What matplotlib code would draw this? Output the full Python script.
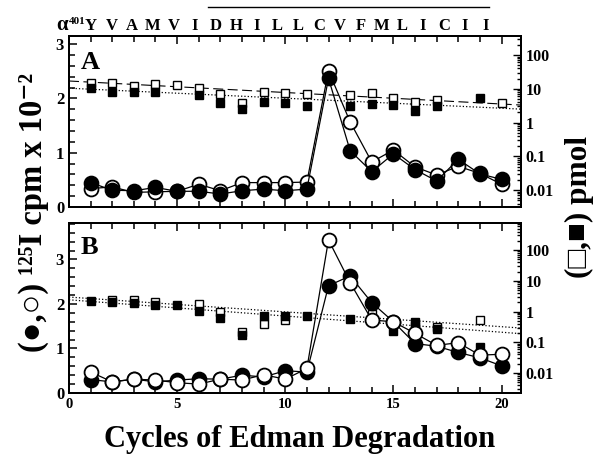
import numpy as np
import matplotlib
matplotlib.use("Agg")
import matplotlib.pyplot as plt
from matplotlib.ticker import MultipleLocator, LogLocator, NullFormatter, FuncFormatter

nan = np.nan

# Номера циклов деградации по Эдману
cycles = np.arange(1, 21)
residues = ["Y", "V", "A", "M", "V", "I", "D", "H", "I", "L",
            "L", "C", "V", "F", "M", "L", "I", "C", "I", "I"]

# Панель A: радиоактивность (cpm x 10^-2)
a_cpm_filled = [0.45, 0.31, 0.30, 0.36, 0.29, 0.29, 0.24, 0.30, 0.33, 0.30,
                0.33, 2.37, 1.04, 0.65, 0.98, 0.69, 0.48, 0.88, 0.61, 0.51]
a_cpm_open = [0.34, 0.37, 0.27, 0.28, 0.29, 0.42, 0.30, 0.45, 0.45, 0.45,
              0.46, 2.51, 1.57, 0.83, 1.05, 0.74, 0.59, 0.75, 0.62, 0.42]
# Панель A: выход аминокислот (pmol)
a_pmol_open = [14.7, 14.7, 11.7, 13.4, 12.8, 10.4, 6.8, 3.7, 8.3, 7.4,
               6.8, nan, 6.5, 7.3, 5.5, 4.1, 4.7, nan, nan, 3.9]
a_pmol_filled = [10.2, 7.8, 7.8, 7.8, nan, 6.6, 3.9, 2.5, 4.1, 3.7,
                 3.1, nan, 3.0, 3.6, 3.3, 2.2, 3.0, nan, 5.3, nan]

# Панель B
b_cpm_filled = [0.30, 0.25, 0.31, 0.25, 0.29, 0.32, 0.31, 0.40, 0.36, 0.50,
                0.47, 2.41, 2.63, 2.03, 1.60, 1.11, 1.05, 0.91, 0.79, 0.61]
b_cpm_open = [0.47, 0.25, 0.31, 0.29, 0.23, 0.20, 0.31, 0.29, 0.41, 0.31,
              0.55, 3.44, 2.48, 1.64, 1.60, 1.34, 1.07, 1.13, 0.85, 0.87]
b_pmol_filled = [2.2, 2.0, 1.9, 1.6, 1.6, 1.05, 0.61, 0.17, 0.72, 0.69,
                 0.69, nan, 0.58, nan, 0.24, 0.44, 0.27, nan, 0.069, nan]
b_pmol_open = [nan, 2.4, 2.4, 2.1, nan, 1.8, 1.0, 0.22, 0.39, 0.51,
               nan, nan, nan, 0.82, nan, 0.34, 0.32, nan, 0.51, nan]

# Линии аппроксимации (концы)
fit_x = [0, 20.9]
a_fit_open = [17.0, 3.3]
a_fit_filled = [10.4, 2.5]
b_fit_1 = [2.95, 0.29]
b_fit_2 = [2.4, 0.19]

plt.rcParams['font.family'] = ['Liberation Serif', 'DejaVu Serif']
plt.rcParams['font.weight'] = 'bold'
plt.rcParams['axes.linewidth'] = 1.4

fig = plt.figure(figsize=(6.02, 4.62), dpi=100)
axA = fig.add_axes([0.1146, 0.5519, 0.7508, 0.370])
axB = fig.add_axes([0.1146, 0.1494, 0.7508, 0.368])


def setup(ax, ymax, logmin, logmax):
    ax.set_xlim(0, 20.9)
    ax.set_ylim(0, ymax)
    ax.xaxis.set_major_locator(MultipleLocator(5))
    ax.xaxis.set_minor_locator(MultipleLocator(1))
    ax.yaxis.set_major_locator(MultipleLocator(1))
    ax.yaxis.set_minor_locator(MultipleLocator(0.2))
    ax.tick_params(which='both', direction='in', top=True, bottom=True,
                   left=True, right=False, width=1.1)
    ax.tick_params(axis='x', labelsize=10.5)
    ax.tick_params(axis='y', labelsize=12)
    ax.tick_params(which='major', length=6)
    ax.tick_params(which='minor', length=4)
    ax2 = ax.twinx()
    ax2.set_yscale('log')
    ax2.set_ylim(logmin, logmax)
    ax2.yaxis.set_major_locator(LogLocator(base=10, numticks=10))
    ax2.yaxis.set_minor_locator(LogLocator(base=10, subs=np.arange(2, 10), numticks=10))
    ax2.yaxis.set_minor_formatter(NullFormatter())
    ax2.yaxis.set_major_formatter(FuncFormatter(lambda v, p: "%g" % v))
    ax2.tick_params(which='both', direction='in', labelsize=11.5, width=1.0)
    ax2.tick_params(which='major', length=6)
    ax2.tick_params(which='minor', length=3)
    ax.set_zorder(ax2.get_zorder() + 1)
    ax.patch.set_visible(False)
    return ax2


axA2 = setup(axA, 3.15, 10 ** -2.5, 10 ** 2.56)
axB2 = setup(axB, 3.82, 10 ** -2.65, 10 ** 2.88)
axA.set_xticklabels([])

sq = dict(marker='s', markersize=6, linestyle='none', markeredgecolor='black',
          markeredgewidth=1.0)
circ = dict(marker='o', markersize=10, color='black', linewidth=0.9,
            markeredgecolor='black', markeredgewidth=1.3)

# Панель A
axA2.plot(fit_x, a_fit_open, color='black', linestyle=(0, (9, 4)), linewidth=0.8)
axA2.plot(fit_x, a_fit_filled, color='black', linestyle=':', linewidth=0.9)
axA2.plot(cycles, a_pmol_open, markerfacecolor='white', **sq)
axA2.plot(cycles, a_pmol_filled, markerfacecolor='black', **sq)
axA.plot(cycles, a_cpm_open, markerfacecolor='white', zorder=3, **circ)
axA.plot(cycles, a_cpm_filled, markerfacecolor='black', zorder=4, **circ)

# Панель B
axB2.plot(fit_x, b_fit_1, color='black', linestyle=':', linewidth=0.9)
axB2.plot(fit_x, b_fit_2, color='black', linestyle=':', linewidth=0.9)
axB2.plot(cycles, b_pmol_open, markerfacecolor='white', **sq)
axB2.plot(cycles, b_pmol_filled, markerfacecolor='black', **sq)
axB.plot(cycles, b_cpm_filled, markerfacecolor='black', zorder=3, **circ)
axB.plot(cycles, b_cpm_open, markerfacecolor='white', zorder=4, **circ)

axA.text(0.026, 0.81, "A", transform=axA.transAxes, fontsize=19, fontweight='bold')
axB.text(0.026, 0.82, "B", transform=axB.transAxes, fontsize=19, fontweight='bold')

# Последовательность над графиком
xt = axA.get_xaxis_transform()
res_x = 1 + np.arange(len(residues)) * 0.9605
for x, r in zip(res_x, residues):
    axA.text(x, 1.038, r, transform=xt, ha='center', va='baseline',
             fontsize=12, fontweight='bold')
axA.text(-0.02, 1.068, "401", transform=xt, ha='left', va='baseline',
         fontsize=8, fontweight='bold')
axA.text(-0.05, 1.038, "α", transform=xt, ha='right', va='baseline',
         fontsize=15, fontweight='bold')
axA.plot([6.43, 19.4], [1.168, 1.168], color='black', linewidth=1.0,
         transform=xt, clip_on=False)

fig.text(0.498, 1 - 446.7 / 462, "Cycles of Edman Degradation", ha='center',
         va='baseline', fontsize=22, fontweight='bold')
fig.text(0.055, 0.54, "(●,○) ¹²⁵I cpm x 10⁻²", rotation=90, ha='center',
         va='center', fontsize=23.5, fontweight='bold')
fig.text(0.962, 0.552, "(□,■) pmol", rotation=90, ha='center', va='center',
         fontsize=22.5, fontweight='bold')

fig.savefig("out.png", dpi=100)
